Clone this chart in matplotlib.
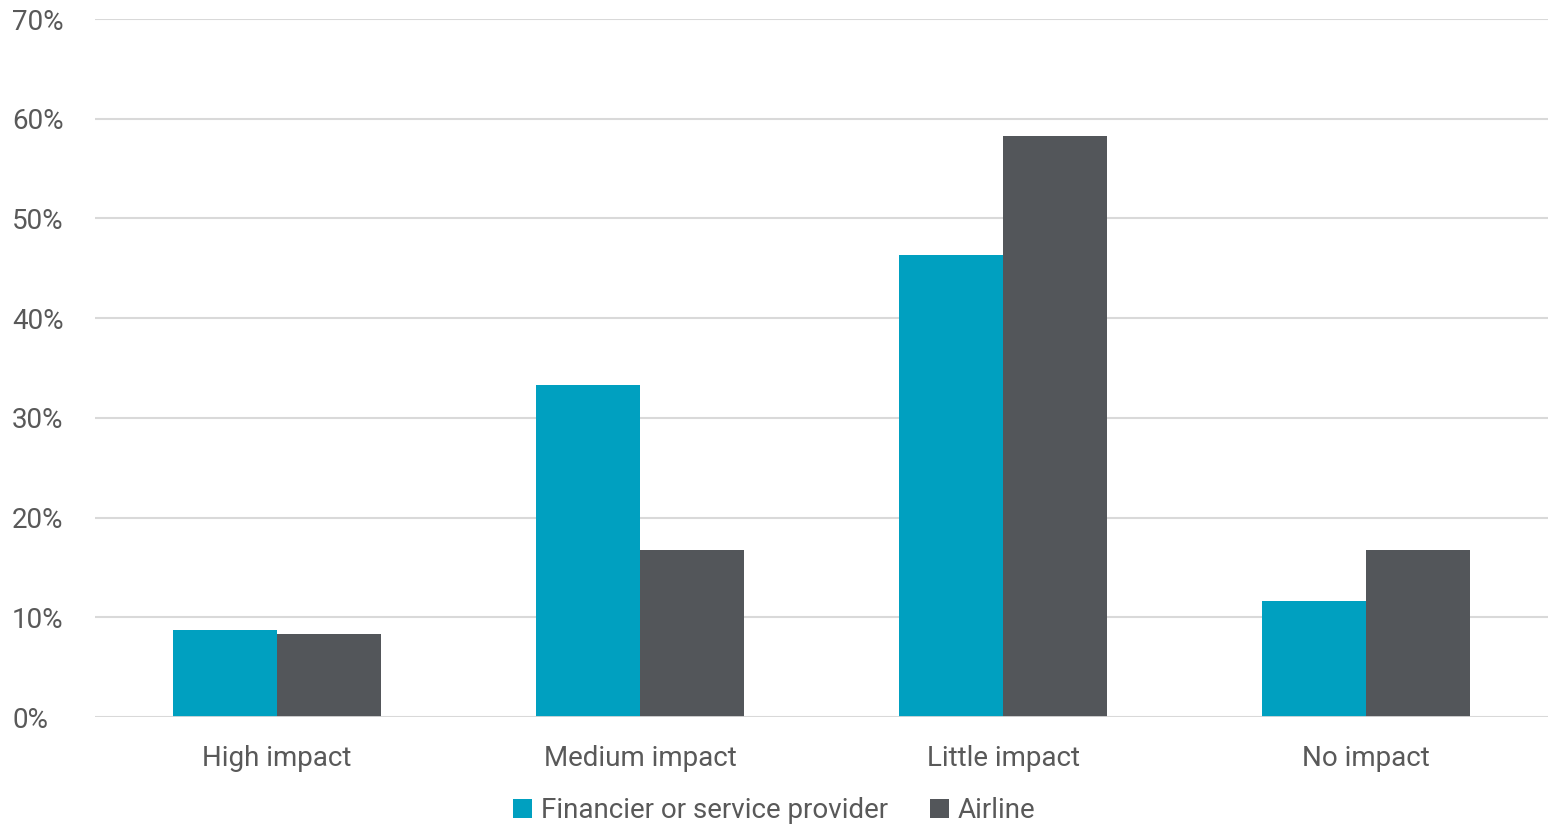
import matplotlib
matplotlib.use("Agg")
import matplotlib.pyplot as plt
import numpy as np

categories = ["High impact", "Medium impact", "Little impact", "No impact"]
financier = [8.7, 33.3, 46.3, 11.6]
airline = [8.3, 16.7, 58.3, 16.7]
series_names = ["Financier or service provider", "Airline"]
yticks = [0, 10, 20, 30, 40, 50, 60, 70]

plt.rcParams["font.family"] = ["Roboto", "DejaVu Sans"]

text_col = "#595959"
teal = "#00A0C0"
gray = "#53565A"

fig = plt.figure(figsize=(15.48, 8.31), dpi=100)
ax = fig.add_axes([95 / 1548, 114 / 831, 1453 / 1548, 698 / 831])

x = np.arange(len(categories))
w = 0.286
ax.bar(x - w / 2, financier, w, color=teal, label=series_names[0], zorder=3)
ax.bar(x + w / 2, airline, w, color=gray, label=series_names[1], zorder=3)

ax.set_xlim(-0.5, 3.5)
ax.set_ylim(0, 70)
ax.set_yticks(yticks)
ax.set_yticklabels([f"{v}%" for v in yticks])
ax.set_xticks(x)
ax.set_xticklabels(categories)
ax.grid(axis="y", color="#d9d9d9", linewidth=1.5, zorder=0)
for s in ax.spines.values():
    s.set_visible(False)
ax.axhline(0, color="#d9d9d9", linewidth=2, zorder=4)
ax.tick_params(axis="both", length=0, labelsize=20, colors=text_col)
ax.tick_params(axis="x", pad=20)
ax.yaxis.set_tick_params(pad=0)
for lbl in ax.get_yticklabels():
    lbl.set_horizontalalignment("left")
    lbl.set_x(-83 / 1453)

fig.legend(loc="lower center", bbox_to_anchor=(0.5, -0.022), ncol=2, frameon=False,
           fontsize=20, handlelength=0.7, handleheight=0.7, handletextpad=0.3,
           columnspacing=1.5, labelcolor=text_col)

fig.savefig("out.png", dpi=100)
